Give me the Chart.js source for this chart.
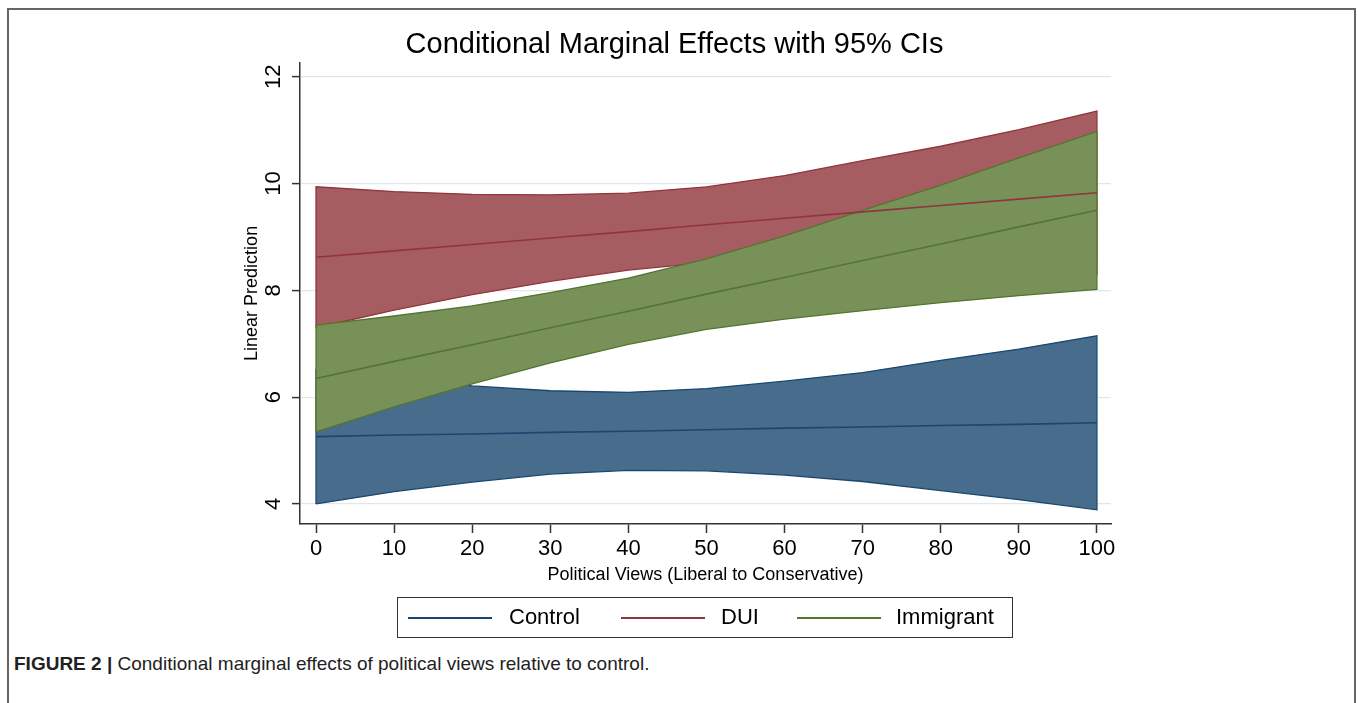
<!DOCTYPE html>
<html>
<head>
<meta charset="utf-8">
<script src="https://cdn.jsdelivr.net/npm/chart.js@4.4.1/dist/chart.umd.min.js"></script>
<style>
  html, body { margin: 0; padding: 0; background: #fff; }
  body { width: 1358px; height: 703px; position: relative; overflow: hidden; font-family: "Liberation Sans", Arial, sans-serif; }
  #frame { position: absolute; left: 7px; top: 8px; width: 1345px; height: 720px; border: 2px solid #666; }
  #wrap { position: absolute; left: 0; top: 0; width: 1358px; height: 600px; }
  #legend { position: absolute; left: 397px; top: 597px; width: 614px; height: 39px; border: 1.5px solid #333; }
  #legend .ln { position: absolute; top: 19px; height: 2px; width: 84px; }
  #legend .tx { position: absolute; top: 7px; font-size: 22px; line-height: 24px; color: #000; }
  #caption { position: absolute; left: 14px; top: 653px; font-family: "Liberation Sans Narrow", "Liberation Sans", sans-serif; font-size: 19px; color: #222; white-space: nowrap; }
  #caption b { font-weight: bold; }
</style>
</head>
<body>
<div id="frame"></div>
<div id="wrap"><canvas id="cme"></canvas></div>
<div id="legend">
  <div class="ln" style="left:10px;background:#1a476f"></div><div class="tx" style="left:111px">Control</div>
  <div class="ln" style="left:223px;background:#90353b"></div><div class="tx" style="left:323px">DUI</div>
  <div class="ln" style="left:399px;background:#55752f"></div><div class="tx" style="left:498px">Immigrant</div>
</div>
<div id="caption"><b>FIGURE 2 |</b> Conditional marginal effects of political views relative to control.</div>
<script>
// political views (x) and the margins at each step
const xValues = [0, 10, 20, 30, 40, 50, 60, 70, 80, 90, 100];

const controlMean  = [5.26, 5.29, 5.31, 5.34, 5.36, 5.39, 5.42, 5.44, 5.47, 5.49, 5.52];
const controlLower = [4.00, 4.23, 4.41, 4.56, 4.63, 4.62, 4.54, 4.42, 4.25, 4.08, 3.89];
const controlUpper = [6.52, 6.35, 6.21, 6.12, 6.09, 6.16, 6.30, 6.46, 6.69, 6.90, 7.15];

const duiMean  = [8.62, 8.74, 8.86, 8.98, 9.10, 9.23, 9.35, 9.47, 9.59, 9.71, 9.83];
const duiLower = [7.30, 7.63, 7.92, 8.17, 8.38, 8.52, 8.55, 8.51, 8.48, 8.41, 8.30];
const duiUpper = [9.94, 9.85, 9.80, 9.79, 9.82, 9.94, 10.15, 10.43, 10.70, 11.01, 11.36];

const immMean  = [6.35, 6.67, 6.98, 7.30, 7.61, 7.93, 8.24, 8.56, 8.87, 9.19, 9.50];
const immLower = [5.35, 5.82, 6.25, 6.64, 6.99, 7.27, 7.46, 7.62, 7.77, 7.90, 8.02];
const immUpper = [7.35, 7.52, 7.71, 7.96, 8.23, 8.59, 9.02, 9.50, 9.97, 10.48, 10.98];

const xTicks = [0, 10, 20, 30, 40, 50, 60, 70, 80, 90, 100];
const yTicks = [4, 6, 8, 10, 12];

const pts = (ys) => xValues.map((x, i) => ({ x: x, y: ys[i] }));

// outline of a CI band: along the lower bound, back along the upper, closed
const outline = (lo, hi) => {
    const a = pts(lo);
    const b = pts(hi).reverse();
    return a.concat(b, [a[0]]);
};

const groups = [
    { name: 'Control',   mean: controlMean, lo: controlLower, hi: controlUpper, line: '#1a476f', band: 'rgb(72,108,140)' },
    { name: 'DUI',       mean: duiMean,     lo: duiLower,     hi: duiUpper,     line: '#90353b', band: 'rgb(166,93,98)' },
    { name: 'Immigrant', mean: immMean,     lo: immLower,     hi: immUpper,     line: '#55752f', band: 'rgb(119,145,89)' }
];

const datasets = [];
let ord = 20;
groups.forEach(g => {
    datasets.push({ label: g.name + ' lo', data: pts(g.lo), fill: '+1', backgroundColor: g.band,
        borderWidth: 0, borderColor: 'transparent', order: ord-- });
    datasets.push({ label: g.name + ' hi', data: pts(g.hi), fill: false,
        borderWidth: 0, borderColor: 'transparent', order: ord-- });
    datasets.push({ label: g.name + ' ci', data: outline(g.lo, g.hi), fill: false,
        borderWidth: 1.3, borderColor: g.line, order: ord-- });
});
groups.forEach(g => {
    datasets.push({ label: g.name, data: pts(g.mean), fill: false,
        borderWidth: 1.6, borderColor: g.line, order: ord-- });
});

// stata-style vertical tick labels on the y axis
const yTickLabels = {
    id: 'yTickLabels',
    afterDraw(chart) {
        const s = chart.scales.y;
        const ctx = chart.ctx;
        ctx.save();
        ctx.font = '22px "Liberation Sans", Arial, sans-serif';
        ctx.fillStyle = '#000';
        ctx.textAlign = 'center';
        ctx.textBaseline = 'middle';
        s.ticks.forEach(t => {
            ctx.save();
            ctx.translate(s.right - 26, s.getPixelForValue(t.value));
            ctx.rotate(-Math.PI / 2);
            ctx.fillText(String(t.value), 0, 0);
            ctx.restore();
        });
        ctx.restore();
    }
};

new Chart(document.getElementById('cme'), {
    type: 'line',
    data: { datasets: datasets },
    plugins: [yTickLabels],
    options: {
        responsive: true,
        maintainAspectRatio: false,
        animation: false,
        events: [],
        layout: { padding: { left: 238, right: 247, top: 0, bottom: 0 } },
        elements: { point: { radius: 0 }, line: { tension: 0 } },
        plugins: {
            legend: { display: false },
            tooltip: { enabled: false },
            title: {
                display: true,
                text: 'Conditional Marginal Effects with 95% CIs',
                color: '#000',
                font: { family: '"Liberation Sans", Arial, sans-serif', size: 29, weight: 'normal' },
                padding: { top: 28, bottom: 0 }
            }
        },
        scales: {
            x: {
                type: 'linear',
                min: -2.05,
                max: 101.8,
                afterBuildTicks: (s) => { s.ticks = xTicks.map(v => ({ value: v })); },
                afterFit: (s) => { s.height = 76; },
                border: { color: '#333', width: 1.5 },
                grid: { drawOnChartArea: false, drawTicks: true, tickLength: 9, tickColor: '#333', tickWidth: 1.5 },
                ticks: { color: '#000', padding: 3, maxRotation: 0,
                    font: { family: '"Liberation Sans", Arial, sans-serif', size: 22 } },
                title: {
                    display: true,
                    text: 'Political Views (Liberal to Conservative)',
                    color: '#000',
                    font: { family: '"Liberation Sans", Arial, sans-serif', size: 18 },
                    padding: { top: 4, bottom: 14 }
                }
            },
            y: {
                type: 'linear',
                min: 3.624,
                max: 12.263,
                afterBuildTicks: (s) => { s.ticks = yTicks.map(v => ({ value: v })); },
                afterFit: (s) => { s.width = 62; },
                border: { color: '#333', width: 1.5 },
                grid: { color: '#dde8ec', lineWidth: 1.2, drawTicks: true, tickLength: 8, tickColor: '#333', tickWidth: 1.5 },
                ticks: { display: false },
                title: {
                    display: true,
                    text: 'Linear Prediction',
                    color: '#000',
                    font: { family: '"Liberation Sans", Arial, sans-serif', size: 18 },
                    padding: { top: 3, bottom: 3 }
                }
            }
        }
    }
});
</script>
</body>
</html>
